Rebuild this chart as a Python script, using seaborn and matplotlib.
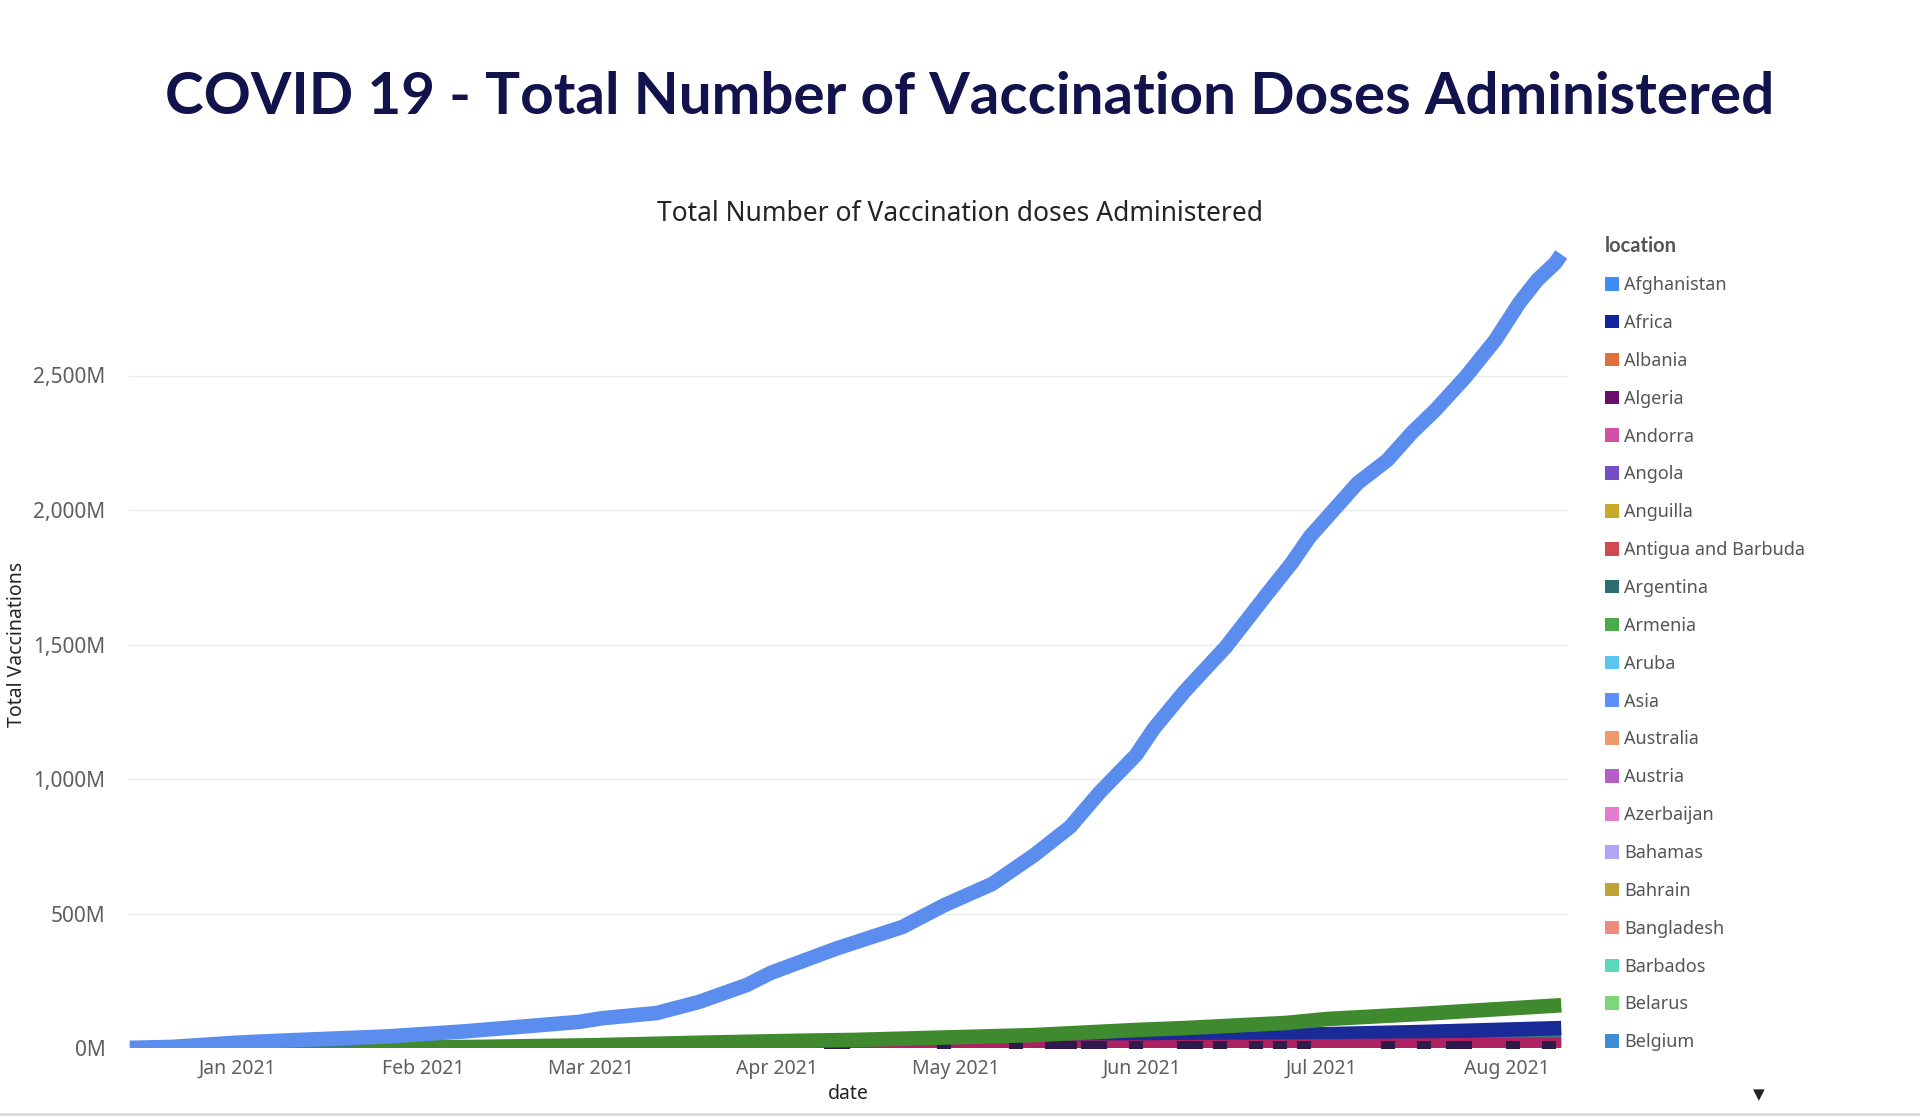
import numpy as np
import pandas as pd
import matplotlib
matplotlib.use('Agg')
import matplotlib.pyplot as plt
import matplotlib.ticker as mticker
import matplotlib.dates as mdates
from matplotlib.patches import Patch
from matplotlib.lines import Line2D
import seaborn as sns

# ---------------------------------------------------------------------------
# data (values in millions of doses)
# ---------------------------------------------------------------------------
asia_dates = ['2020-12-14', '2020-12-21', '2021-01-01', '2021-01-08', '2021-01-26',
              '2021-02-08', '2021-02-27', '2021-03-03', '2021-03-12', '2021-03-19',
              '2021-03-27', '2021-03-31', '2021-04-11', '2021-04-22', '2021-04-29',
              '2021-05-07', '2021-05-14', '2021-05-20', '2021-05-25', '2021-05-31',
              '2021-06-03', '2021-06-08', '2021-06-15', '2021-06-22', '2021-06-26',
              '2021-06-29', '2021-07-03', '2021-07-07', '2021-07-12', '2021-07-16',
              '2021-07-20', '2021-07-25', '2021-07-30', '2021-08-03', '2021-08-06',
              '2021-08-09', '2021-08-10']
asia_vals = [0.5, 4, 20, 27, 43, 62, 97, 111, 130, 171, 234, 279, 370, 450, 531,
             610, 717, 822, 952, 1089, 1188, 1323, 1491, 1691, 1803, 1900, 2000,
             2100, 2186, 2286, 2372, 2494, 2632, 2770, 2855, 2918, 2950]

brazil_dates = ['2021-01-20', '2021-02-10', '2021-03-01', '2021-03-20', '2021-04-05',
                '2021-04-14', '2021-05-14', '2021-05-31', '2021-06-08', '2021-06-25',
                '2021-07-02', '2021-07-17', '2021-08-10']
brazil_vals = [0.5, 4, 10, 20, 27, 30, 48, 67, 74, 93, 108, 126, 159]

africa_dates = ['2021-02-01', '2021-03-01', '2021-04-01', '2021-04-14', '2021-05-08',
                '2021-05-22', '2021-06-07', '2021-06-25', '2021-07-17', '2021-08-10']
africa_vals = [1, 5, 14, 22, 25, 28, 33, 48, 59, 74]

argentina_dates = ['2020-12-29', '2021-02-01', '2021-03-01', '2021-04-01', '2021-05-01',
                   '2021-06-01', '2021-07-01', '2021-08-01', '2021-08-10']
argentina_vals = [0.1, 0.5, 2, 5, 9, 16, 25, 33, 36]

chile_dates = ['2021-02-08', '2021-04-01', '2021-06-01', '2021-07-01', '2021-08-10']
chile_vals = [0.1, 0.5, 1.5, 6, 13]

albania_dates = ['2020-12-28', '2021-01-15', '2021-02-08']
albania_vals = [0.05, 0.1, 0.3]

bahrain_dates = ['2020-12-22', '2020-12-27']
bahrain_vals = [0.05, 0.1]

algeria_dates = ['2021-04-10', '2021-04-11', '2021-04-12', '2021-04-29', '2021-05-11',
                 '2021-05-17', '2021-05-18', '2021-05-20', '2021-05-23', '2021-05-24',
                 '2021-05-25', '2021-05-31', '2021-06-08', '2021-06-09', '2021-06-10',
                 '2021-06-14', '2021-06-20', '2021-06-24', '2021-06-28', '2021-07-12',
                 '2021-07-18', '2021-07-23', '2021-07-24', '2021-07-25', '2021-08-02',
                 '2021-08-08']
algeria_vals = [0.5] * len(algeria_dates)

legend_names = ['Afghanistan', 'Africa', 'Albania', 'Algeria', 'Andorra', 'Angola',
                'Anguilla', 'Antigua and Barbuda', 'Argentina', 'Armenia', 'Aruba',
                'Asia', 'Australia', 'Austria', 'Azerbaijan', 'Bahamas', 'Bahrain',
                'Bangladesh', 'Barbados', 'Belarus', 'Belgium']
legend_colors = ['#3D8DF5', '#12239E', '#E0703A', '#6B0F6E', '#D04FA8', '#744EC2',
                 '#C9A82C', '#D04B4F', '#2E6E73', '#4BAA4C', '#5BC4F0', '#5B8FF9',
                 '#EE9A6B', '#B55EC6', '#E57BD0', '#B4A4F5', '#BFA235', '#F08A80',
                 '#5AD8BE', '#7ED57A', '#3D8DD4']

line_palette = {'Albania': '#C5591E', 'Bahrain': '#C8A62E', 'Argentina': '#3A7E86',
                'Africa': '#1A2A96', 'Chile': '#AD2160', 'Brazil': '#3F8A2F',
                'Asia': '#5B8DEF'}
draw_order = ['Albania', 'Bahrain', 'Argentina', 'Africa', 'Chile', 'Brazil', 'Asia']

# ---------------------------------------------------------------------------
# long table for seaborn
# ---------------------------------------------------------------------------
series = {
    'Asia': (asia_dates, asia_vals),
    'Brazil': (brazil_dates, brazil_vals),
    'Africa': (africa_dates, africa_vals),
    'Argentina': (argentina_dates, argentina_vals),
    'Chile': (chile_dates, chile_vals),
    'Albania': (albania_dates, albania_vals),
    'Bahrain': (bahrain_dates, bahrain_vals),
}
frames = []
for name, (d, v) in series.items():
    frames.append(pd.DataFrame({'date': pd.to_datetime(d),
                                'total': np.array(v) * 1e6,
                                'location': name}))
df = pd.concat(frames, ignore_index=True)

alg = pd.DataFrame({'date': pd.to_datetime(algeria_dates),
                    'total': np.array(algeria_vals) * 1e6})

# ---------------------------------------------------------------------------
# plot
# ---------------------------------------------------------------------------
sns.set_theme(style='white')
plt.rcParams['font.family'] = ['Noto Sans', 'DejaVu Sans']

W, H = 1920, 1117
fig = plt.figure(figsize=(W / 100, H / 100), dpi=100)
ax_l, ax_r, ax_t, ax_b = 129, 1568, 241, 1048
ax = fig.add_axes([ax_l / W, 1 - ax_b / H, (ax_r - ax_l) / W, (ax_b - ax_t) / H])

LW = 10.5
for name in draw_order[:-2]:
    sub = df[df['location'] == name]
    sns.lineplot(data=sub, x='date', y='total', color=line_palette[name],
                 linewidth=LW, solid_capstyle='butt', ax=ax, legend=False)

sns.scatterplot(data=alg, x='date', y='total', marker='s', s=110, color='#2F1A4B',
                linewidth=0, ax=ax, legend=False, zorder=3)

for name in draw_order[-2:]:
    sub = df[df['location'] == name]
    sns.lineplot(data=sub, x='date', y='total', color=line_palette[name],
                 linewidth=LW, solid_capstyle='butt', ax=ax, legend=False, zorder=4)

ax.set_xlim(pd.Timestamp('2020-12-13 21:00'), pd.Timestamp('2021-08-11 03:00'))
ax.set_ylim(0, 3000e6)

ax.set_yticks(np.arange(0, 2501e6, 500e6))
ax.yaxis.set_major_formatter(mticker.FuncFormatter(lambda v, p: f'{v / 1e6:,.0f}M'))
ax.xaxis.set_major_locator(mdates.MonthLocator(bymonth=range(1, 9)))
ax.xaxis.set_major_formatter(mdates.DateFormatter('%b %Y'))

ax.tick_params(axis='y', length=0, pad=17, labelsize=15, labelcolor='#605E5C')
ax.tick_params(axis='x', length=0, pad=8, labelsize=14, labelcolor='#605E5C')
ax.yaxis.grid(True, color='#EBEBEB', linewidth=1)
ax.xaxis.grid(False)
for sp in ax.spines.values():
    sp.set_visible(False)

ax.set_xlabel('date', fontsize=14, color='#252423')
ax.set_ylabel('Total Vaccinations', fontsize=14, color='#252423')
ax.xaxis.set_label_coords(0.5, -0.045)
ax.yaxis.set_label_coords(-0.071, 0.5)

# titles
fig.text(970 / W, 1 - 98 / H, 'COVID 19 - Total Number of Vaccination Doses Administered',
         ha='center', va='center', fontsize=42, fontweight='bold', color='#12124D',
         family=['Lato', 'DejaVu Sans'])
fig.text(960 / W, 1 - 214 / H, 'Total Number of Vaccination doses Administered',
         ha='center', va='center', fontsize=19, color='#252423')

# legend
handles = [Patch(facecolor=c, edgecolor='none') for c in legend_colors]
leg = fig.legend(handles, legend_names, loc='upper left',
                 bbox_to_anchor=(1598 / W, 1 - 229 / H), frameon=False,
                 title='location', alignment='left', fontsize=13,
                 title_fontproperties={'weight': 'bold', 'size': 14.5,
                                       'family': ['Lato', 'DejaVu Sans']},
                 handlelength=0.78, handleheight=0.78, handletextpad=0.25,
                 labelspacing=1.1, borderaxespad=0)
leg.get_title().set_color('#555555')
for t in leg.get_texts():
    t.set_color('#555555')

# scroll arrow and bottom border
fig.text(1759 / W, 1 - 1095 / H, '\u25BC', ha='center', va='center', fontsize=11,
         color='#252423', family='DejaVu Sans')
fig.add_artist(Line2D([0, 1], [1 - 1114 / H] * 2, color='#DADADA', linewidth=2))

fig.savefig('out.png', dpi=100)
